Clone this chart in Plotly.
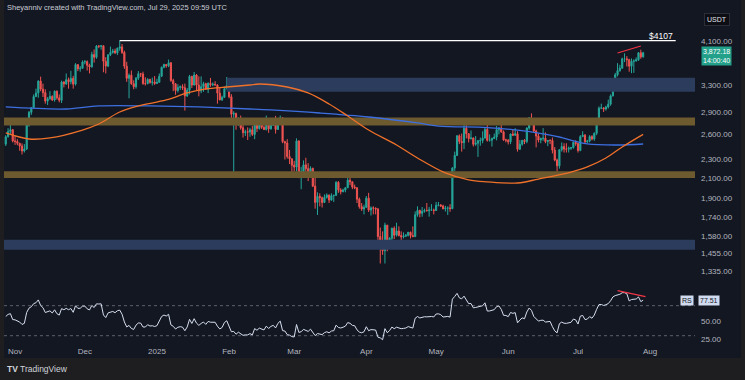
import pandas as pd
import plotly.graph_objects as go

W, H = 745, 380

# ---------------- data ----------------
start_date = "2024-10-28"
end_date = "2025-07-29"

opens = [
    # Oct 28-31
    2479, 2570, 2637, 2660,
    # Nov
    2518, 2512, 2490, 2457, 2398, 2421, 2720, 2895, 2962, 3126, 3183, 3372, 3243, 3187, 3058,
    3092, 3130, 3075, 3210, 3108, 3070, 3357, 3326, 3395, 3361, 3417, 3322, 3654, 3582, 3589,
    # Dec
    3703, 3707, 3642, 3614, 3838, 3787, 4000, 3996, 4006, 3714, 3628, 3834, 3878, 3905, 3870,
    3958, 3984, 3877, 3627, 3418, 3470, 3330, 3281, 3420, 3494, 3490, 3333, 3330, 3400, 3350, 3358,
    # Jan
    3332, 3352, 3452, 3607, 3656, 3633, 3686, 3380, 3327, 3220, 3267, 3282, 3265, 3137, 3226,
    3450, 3307, 3474, 3307, 3216, 3280, 3329, 3240, 3336, 3310, 3320, 3308, 3180, 3078, 3114, 3247,
    # Feb
    3300, 3124, 2870, 2880, 2733, 2787, 2685, 2622, 2633, 2630, 2658, 2600, 2738, 2676, 2725,
    2691, 2662, 2744, 2671, 2716, 2739, 2663, 2763, 2817, 2510, 2493, 2334, 2307,
    # Mar
    2237, 2217, 2518, 2150, 2170, 2241, 2200, 2141, 2203, 2020, 1866, 1922, 1908, 1865, 1912,
    1933, 1887, 1927, 1932, 2057, 1983, 1966, 1982, 2004, 2079, 2063, 2011, 2003, 1895, 1828, 1806,
    # Apr
    1822, 1905, 1797, 1816, 1815, 1806, 1580, 1552, 1474, 1670, 1521, 1566, 1645, 1590, 1623,
    1588, 1577, 1583, 1589, 1613, 1587, 1579, 1756, 1795, 1769, 1786, 1794, 1792, 1798, 1799,
    # May
    1793, 1839, 1842, 1833, 1808, 1815, 1816, 1810, 2207, 2346, 2582, 2512, 2497, 2679, 2609,
    2547, 2555, 2477, 2491, 2521, 2524, 2553, 2664, 2525, 2528, 2548, 2566, 2660, 2682, 2632, 2530,
    # Jun
    2528, 2508, 2605, 2590, 2608, 2418, 2478, 2526, 2510, 2682, 2816, 2772, 2643, 2578, 2529,
    2548, 2552, 2510, 2524, 2523, 2408, 2294, 2230, 2412, 2450, 2420, 2418, 2430, 2438, 2501,
    # Jul
    2486, 2404, 2571, 2589, 2508, 2518, 2572, 2543, 2614, 2771, 2954, 2958, 2942, 2971, 3013,
    3137, 3371, 3477, 3548, 3591, 3760, 3760, 3743, 3626, 3713, 3720, 3741, 3872, 3795,
]
highs = [
    2590, 2680, 2722, 2670,
    2585, 2540, 2495, 2488, 2480, 2720, 2915, 2970, 3160, 3250, 3385, 3446, 3330, 3240, 3120,
    3210, 3145, 3220, 3220, 3160, 3380, 3370, 3500, 3430, 3545, 3460, 3680, 3660, 3630, 3730,
    3736, 3730, 3670, 3890, 3935, 4020, 4018, 4010, 4010, 3790, 3840, 3990, 3945, 3950, 3970,
    4107, 4040, 3910, 3705, 3500, 3550, 3385, 3440, 3540, 3510, 3530, 3435, 3420, 3410, 3430, 3455,
    3410, 3500, 3620, 3670, 3660, 3745, 3700, 3410, 3340, 3320, 3300, 3320, 3330, 3260, 3475,
    3460, 3525, 3490, 3450, 3450, 3360, 3345, 3350, 3425, 3350, 3370, 3320, 3260, 3140, 3280, 3440,
    3310, 3163, 2910, 2890, 2825, 2850, 2795, 2660, 2690, 2685, 2710, 2770, 2750, 2790, 2730,
    2718, 2850, 2760, 2730, 2770, 2845, 2790, 2850, 2830, 2520, 2540, 2410, 2315,
    2285, 2550, 2525, 2220, 2290, 2320, 2260, 2225, 2210, 2140, 1960, 1950, 1920, 1940, 1950,
    1940, 1950, 1935, 2070, 2070, 2000, 1995, 2010, 2105, 2105, 2065, 2035, 2010, 1910, 1860, 1845,
    1925, 1955, 1830, 1830, 1820, 1815, 1650, 1620, 1690, 1672, 1575, 1650, 1660, 1690, 1660,
    1620, 1612, 1600, 1615, 1618, 1660, 1785, 1830, 1800, 1825, 1810, 1860, 1825, 1850, 1810,
    1870, 1870, 1850, 1845, 1835, 1830, 1850, 2215, 2390, 2590, 2600, 2610, 2740, 2725, 2615,
    2650, 2560, 2580, 2530, 2560, 2640, 2690, 2735, 2600, 2560, 2610, 2710, 2695, 2790, 2650, 2545,
    2540, 2610, 2660, 2680, 2640, 2530, 2530, 2540, 2690, 2830, 2880, 2790, 2660, 2610, 2560,
    2680, 2625, 2530, 2540, 2560, 2445, 2310, 2420, 2500, 2490, 2490, 2450, 2445, 2510, 2525,
    2495, 2590, 2640, 2605, 2530, 2590, 2590, 2625, 2790, 2980, 3020, 2970, 2990, 3080, 3160,
    3380, 3510, 3680, 3650, 3780, 3860, 3810, 3760, 3765, 3750, 3785, 3880, 3930, 3890,
]
lows = [
    2457, 2560, 2600, 2500,
    2470, 2466, 2400, 2357, 2380, 2410, 2700, 2860, 2950, 3120, 3110, 3210, 3120, 3020, 3000,
    3080, 3060, 3050, 3080, 3040, 3030, 3270, 3310, 3250, 3320, 3250, 3300, 3540, 3530, 3580,
    3660, 3550, 3500, 3600, 3690, 3760, 3960, 3930, 3520, 3500, 3610, 3810, 3855, 3850, 3830,
    3910, 3850, 3580, 3360, 3100, 3310, 3240, 3250, 3390, 3440, 3310, 3300, 3320, 3330, 3300, 3310,
    3325, 3345, 3440, 3590, 3600, 3610, 3360, 3210, 3155, 3190, 3230, 3230, 2920, 3120, 3160,
    3260, 3300, 3220, 3130, 3180, 3200, 3230, 3180, 3280, 3290, 3300, 3020, 3070, 3060, 3110, 3240,
    3100, 2760, 2140, 2660, 2710, 2660, 2560, 2580, 2530, 2570, 2580, 2540, 2630, 2660, 2670,
    2655, 2650, 2620, 2660, 2710, 2610, 2658, 2740, 2490, 2300, 2310, 2250, 2125,
    2170, 2170, 2100, 1990, 2150, 2150, 2070, 2130, 2010, 1810, 1755, 1830, 1820, 1860, 1900,
    1860, 1880, 1870, 1925, 1955, 1940, 1960, 1960, 2000, 2030, 1990, 1990, 1860, 1810, 1790, 1760,
    1815, 1780, 1750, 1760, 1760, 1535, 1385, 1445, 1385, 1470, 1505, 1540, 1560, 1580, 1580,
    1540, 1565, 1575, 1580, 1565, 1575, 1575, 1740, 1735, 1740, 1775, 1785, 1740, 1790, 1760,
    1790, 1830, 1825, 1805, 1785, 1755, 1782, 1805, 2175, 2340, 2480, 2390, 2420, 2550, 2500,
    2535, 2450, 2460, 2330, 2460, 2490, 2550, 2510, 2510, 2450, 2540, 2525, 2600, 2620, 2520, 2500,
    2475, 2480, 2580, 2580, 2390, 2410, 2460, 2480, 2490, 2660, 2750, 2630, 2440, 2500, 2490,
    2520, 2490, 2455, 2480, 2370, 2280, 2170, 2200, 2390, 2380, 2380, 2380, 2410, 2425, 2460,
    2380, 2395, 2570, 2490, 2490, 2500, 2525, 2520, 2590, 2750, 2940, 2900, 2920, 2950, 2990,
    3130, 3310, 3450, 3530, 3580, 3700, 3620, 3530, 3505, 3510, 3710, 3720, 3760, 3780,
]
closes = [
    2570, 2637, 2660, 2518,
    2512, 2490, 2457, 2398, 2421, 2720, 2895, 2962, 3126, 3183, 3372, 3243, 3187, 3058, 3092,
    3130, 3075, 3210, 3108, 3070, 3357, 3326, 3395, 3361, 3417, 3322, 3654, 3582, 3589, 3703,
    3707, 3642, 3614, 3838, 3787, 4000, 3996, 4006, 3714, 3628, 3834, 3878, 3905, 3870, 3958,
    3984, 3877, 3627, 3418, 3470, 3330, 3281, 3420, 3494, 3490, 3333, 3330, 3400, 3350, 3358, 3332,
    3352, 3452, 3607, 3656, 3633, 3686, 3380, 3327, 3220, 3267, 3282, 3265, 3137, 3226, 3450,
    3307, 3474, 3307, 3216, 3280, 3329, 3240, 3336, 3310, 3320, 3308, 3180, 3078, 3114, 3247, 3300,
    3124, 2870, 2880, 2733, 2787, 2685, 2622, 2633, 2630, 2658, 2600, 2738, 2676, 2725, 2691,
    2662, 2744, 2671, 2716, 2739, 2663, 2763, 2817, 2510, 2493, 2334, 2307, 2237,
    2217, 2518, 2150, 2170, 2241, 2200, 2141, 2203, 2020, 1866, 1922, 1908, 1865, 1912, 1933,
    1887, 1927, 1932, 2057, 1983, 1966, 1982, 2004, 2079, 2063, 2011, 2003, 1895, 1828, 1806, 1822,
    1905, 1797, 1816, 1815, 1806, 1580, 1552, 1474, 1670, 1521, 1566, 1645, 1590, 1623, 1588,
    1577, 1583, 1589, 1613, 1587, 1579, 1756, 1795, 1769, 1786, 1794, 1792, 1798, 1799, 1793,
    1839, 1842, 1833, 1808, 1815, 1816, 1810, 2207, 2346, 2582, 2512, 2497, 2679, 2609, 2547,
    2555, 2477, 2491, 2521, 2524, 2553, 2664, 2525, 2528, 2548, 2566, 2660, 2682, 2632, 2530, 2528,
    2508, 2605, 2590, 2608, 2418, 2478, 2526, 2510, 2682, 2816, 2772, 2643, 2578, 2529, 2548,
    2552, 2510, 2524, 2523, 2408, 2294, 2230, 2412, 2450, 2420, 2418, 2430, 2438, 2501, 2486,
    2404, 2571, 2589, 2508, 2518, 2572, 2543, 2614, 2771, 2954, 2958, 2942, 2971, 3013, 3137,
    3371, 3477, 3548, 3591, 3760, 3760, 3743, 3626, 3713, 3720, 3741, 3872, 3795, 3872,
]

# 200-day MA (blue) and 100-day MA (orange)
ma200_dates = ["2024-10-28", "2024-11-23", "2024-12-07", "2024-12-29", "2025-01-19", "2025-02-10",
               "2025-02-19", "2025-03-12", "2025-04-02", "2025-04-23", "2025-05-02", "2025-05-23",
               "2025-06-05", "2025-06-14", "2025-06-23", "2025-06-29", "2025-07-05", "2025-07-18",
               "2025-07-29"]
ma200_values = [2972, 2943, 2987, 2987, 2972, 2943, 2929, 2886, 2830, 2749, 2708, 2688,
                2654, 2617, 2567, 2519, 2481, 2469, 2481]

ma100_dates = ["2024-10-28", "2024-11-07", "2024-11-16", "2024-11-30", "2024-12-07", "2024-12-16",
               "2024-12-24", "2025-01-05", "2025-01-14", "2025-01-22", "2025-01-31", "2025-02-10",
               "2025-02-14", "2025-02-26", "2025-03-07", "2025-03-16", "2025-03-24", "2025-04-02",
               "2025-04-14", "2025-04-23", "2025-05-05", "2025-05-15", "2025-05-23", "2025-06-05",
               "2025-06-14", "2025-06-28", "2025-07-05", "2025-07-13", "2025-07-20", "2025-07-29"]
ma100_values = [2618, 2542, 2555, 2656, 2735, 2900, 2987, 3075, 3182, 3245, 3276, 3308,
                3324, 3276, 3182, 3015, 2844, 2656, 2469, 2317, 2154, 2082, 2062, 2051,
                2091, 2164, 2218, 2317, 2445, 2600]

# support / resistance zones
zone_names = ["upper_blue", "upper_orange", "lower_orange", "lower_blue"]
zone_lows = [3202, 2716, 2101, 1481]
zone_highs = [3427, 2823, 2173, 1555]
zone_starts = ["2025-01-31", "2024-10-01", "2024-10-01", "2024-10-01"]
zone_end = "2025-12-31"

ath_level = 4107
ath_start = "2024-12-16"
ath_end = "2025-08-12"

div_price_dates = ["2025-07-18", "2025-07-28"]
div_price_values = [3867, 4001]
div_rsi_dates = ["2025-07-18", "2025-07-30"]
div_rsi_values = [90, 82]

price_ticks = [4100, 3300, 2900, 2600, 2300, 2100, 1900, 1740, 1580, 1455, 1335]
rsi_ticks = [50, 25]
rsi_levels = [70, 30]
month_ticks = ["2024-11-01", "2024-12-01", "2025-01-01", "2025-02-01", "2025-03-01",
               "2025-04-01", "2025-05-01", "2025-06-01", "2025-07-01", "2025-08-01"]
month_labels = ["Nov", "Dec", "2025", "Feb", "Mar", "Apr", "May", "Jun", "Jul", "Aug"]

RSI_LEN = 14
RSI_SEED_GAIN = 38.0
RSI_SEED_LOSS = 36.0

# ---------------- derived ----------------
dates = pd.date_range(start_date, end_date, freq="D")
assert len(dates) == len(opens) == len(highs) == len(lows) == len(closes)

rsi = []
ag, al = RSI_SEED_GAIN, RSI_SEED_LOSS
prev = opens[0]
for c in closes:
    ch = c - prev
    ag = (ag * (RSI_LEN - 1) + max(ch, 0)) / RSI_LEN
    al = (al * (RSI_LEN - 1) + max(-ch, 0)) / RSI_LEN
    rsi.append(100 - 100 / (1 + ag / al))
    prev = c

# ---------------- styling / layout ----------------
BG = "#131722"
FRAME = "#1e1e20"
UP = "#26a69a"
DOWN = "#ef5350"
TXT = "#b2b5be"


def px(x):
    return x / W


def py(y):
    return 1 - y / H


x_dom = [px(4), px(695)]
main_dom = [py(284), py(14)]
rsi_dom = [py(345), py(284)]
x_range = ["2024-10-27 06:00", "2025-08-20 07:00"]
y_range = [3.0980, 3.6700]
rsi_range = [17.6, 98.9]

fig = go.Figure()

zone_colors = {"upper_blue": "#2b3c5c", "upper_orange": "#6d5a2e",
               "lower_orange": "#6d5a2e", "lower_blue": "#2b3c5c"}
for name, lo, hi, st in zip(zone_names, zone_lows, zone_highs, zone_starts):
    fig.add_trace(go.Scatter(
        x=[st, zone_end, zone_end, st, st], y=[lo, lo, hi, hi, lo],
        mode="lines", fill="toself", fillcolor=zone_colors[name],
        line=dict(width=0, color=zone_colors[name]),
        xaxis="x", yaxis="y", showlegend=False, hoverinfo="skip"))

fig.add_trace(go.Scatter(x=ma200_dates, y=ma200_values, mode="lines",
                         line=dict(color="#3d6fe0", width=1.3, shape="spline"),
                         xaxis="x", yaxis="y", showlegend=False, hoverinfo="skip"))
fig.add_trace(go.Scatter(x=ma100_dates, y=ma100_values, mode="lines",
                         line=dict(color="#f0712a", width=1.3, shape="spline"),
                         xaxis="x", yaxis="y", showlegend=False, hoverinfo="skip"))

fig.add_trace(go.Candlestick(
    x=dates, open=opens, high=highs, low=lows, close=closes,
    increasing=dict(line=dict(color=UP, width=1), fillcolor=UP),
    decreasing=dict(line=dict(color=DOWN, width=1), fillcolor=DOWN),
    whiskerwidth=0, xaxis="x", yaxis="y", showlegend=False, hoverinfo="skip"))

fig.add_trace(go.Scatter(x=[ath_start, ath_end], y=[ath_level, ath_level], mode="lines",
                         line=dict(color="#ffffff", width=1.2),
                         xaxis="x", yaxis="y", showlegend=False, hoverinfo="skip"))
fig.add_trace(go.Scatter(x=div_price_dates, y=div_price_values, mode="lines",
                         line=dict(color="#f23645", width=1.2),
                         xaxis="x", yaxis="y", showlegend=False, hoverinfo="skip"))

fig.add_trace(go.Scatter(x=dates, y=rsi, mode="lines",
                         line=dict(color="#d6deef", width=1),
                         xaxis="x2", yaxis="y2", showlegend=False, hoverinfo="skip"))
fig.add_trace(go.Scatter(x=div_rsi_dates, y=div_rsi_values, mode="lines",
                         line=dict(color="#f23645", width=1.2),
                         xaxis="x2", yaxis="y2", showlegend=False, hoverinfo="skip"))

shapes = [
    dict(type="rect", xref="paper", yref="paper", x0=px(4), x1=px(741), y0=py(358), y1=1,
         fillcolor=BG, line=dict(width=0), layer="below"),
]
for lvl in rsi_levels:
    shapes.append(dict(type="line", xref="paper", yref="y2", x0=x_dom[0], x1=x_dom[1],
                       y0=lvl, y1=lvl, line=dict(color="#5d606b", width=1, dash="dot"),
                       layer="below"))

ann = [
    dict(x=px(5), y=py(8), xref="paper", yref="paper", xanchor="left", yanchor="middle",
         text="Sheyanniv created with TradingView.com, Jul 29, 2025 09:59 UTC",
         showarrow=False, font=dict(size=7.5, color="#c9ccd4")),
    dict(x=px(717), y=py(20), xref="paper", yref="paper", xanchor="center", yanchor="middle",
         text="USDT", showarrow=False, font=dict(size=7, color="#e0e3eb"),
         bgcolor="#0c0e13", bordercolor="#2a2e39", borderwidth=1, borderpad=2),
    dict(x=px(716), y=py(56), xref="paper", yref="paper", xanchor="center", yanchor="middle",
         text="3,872.18<br>14:00:40", showarrow=False, font=dict(size=7, color="#ffffff"),
         bgcolor="#22a08a", borderpad=1),
    dict(x=px(661), y=py(36), xref="paper", yref="paper", xanchor="center", yanchor="middle",
         text="$4107", showarrow=False, font=dict(size=8.5, color="#ffffff")),
    dict(x=px(687), y=py(300), xref="paper", yref="paper", xanchor="center", yanchor="middle",
         text="RS", showarrow=False, font=dict(size=7, color="#131722"),
         bgcolor="#d0dbf0", borderpad=1),
    dict(x=px(709), y=py(300), xref="paper", yref="paper", xanchor="center", yanchor="middle",
         text="77.51", showarrow=False, font=dict(size=7, color="#131722"),
         bgcolor="#d0dbf0", borderpad=1),
    dict(x=px(5), y=py(369), xref="paper", yref="paper", xanchor="left", yanchor="middle",
         text="<b>TV</b> TradingView", showarrow=False, font=dict(size=8.5, color="#d1d4dc")),
]

axis_common = dict(showgrid=False, zeroline=False, showline=False)
fig.update_layout(
    width=W, height=H, margin=dict(l=0, r=0, t=0, b=0),
    paper_bgcolor=FRAME, plot_bgcolor="rgba(0,0,0,0)",
    font=dict(family="Liberation Sans, Arial, sans-serif", color=TXT),
    showlegend=False,
    xaxis=dict(domain=x_dom, range=x_range, type="date", anchor="y",
               showticklabels=False, rangeslider=dict(visible=False), **axis_common),
    yaxis=dict(domain=main_dom, type="log", range=y_range, side="right", anchor="x",
               tickmode="array", tickvals=price_ticks,
               ticktext=[f"{v:,.2f}" for v in price_ticks],
               ticks="", ticklabelstandoff=5, tickfont=dict(size=8, color=TXT), **axis_common),
    xaxis2=dict(domain=x_dom, range=x_range, type="date", anchor="y2",
                tickmode="array", tickvals=month_ticks, ticktext=month_labels,
                ticks="", tickfont=dict(size=8, color=TXT), **axis_common),
    yaxis2=dict(domain=rsi_dom, range=rsi_range, side="right", anchor="x2",
                tickmode="array", tickvals=rsi_ticks,
                ticktext=[f"{v:.2f}" for v in rsi_ticks],
                ticks="", ticklabelstandoff=5, tickfont=dict(size=8, color=TXT), **axis_common),
    shapes=shapes, annotations=ann,
)

fig.write_html("out.html", config={"displayModeBar": False},
               post_script="document.body.style.margin='0';")
